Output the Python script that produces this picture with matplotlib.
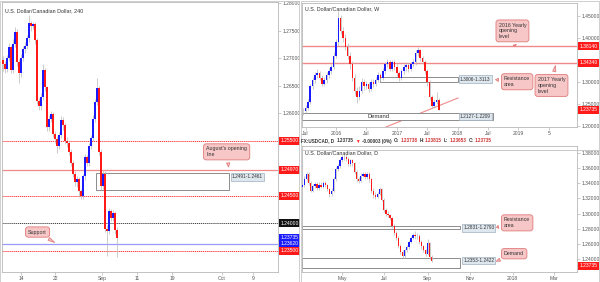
import numpy as np
import matplotlib
matplotlib.use("Agg")
import matplotlib.pyplot as plt
import matplotlib.patches as patches
import matplotlib.transforms as mtrans

plt.rcParams['font.family'] = ['Liberation Sans', 'DejaVu Sans']

UP = "#1a1aff"
DOWN = "#ff1a1a"
WICK = "#b8b8b8"
PINK = "#f7c6c6"
PINK_EDGE = "#e07a7a"
LINE_RED = "#f08a8a"

# ---- 4H panel (bars every 8h, Aug 10 -> Sep 6 2017)
h4_open0 = 1.2697
h4_close = [1.2690, 1.2680, 1.2700, 1.2720, 1.2678, 1.2725, 1.2748, 1.2692, 1.2672, 1.2700,
            1.2716, 1.2722, 1.2736, 1.2763, 1.2758, 1.2762, 1.2732, 1.2622, 1.2612, 1.2630,
            1.2678, 1.2647, 1.2575, 1.2590, 1.2598, 1.2562, 1.2552, 1.2540, 1.2560, 1.2588,
            1.2578, 1.2550, 1.2545, 1.2530, 1.2510, 1.2490, 1.2475, 1.2480, 1.2458, 1.2450,
            1.2485, 1.2520, 1.2510, 1.2540, 1.2555, 1.2590, 1.2620, 1.2645, 1.2530, 1.2468,
            1.2490, 1.2390, 1.2385, 1.2422, 1.2410, 1.2418, 1.2388, 1.23735]
h4_high = [1.2704, 1.2695, 1.2706, 1.2728, 1.2724, 1.2735, 1.2756, 1.2752, 1.2698, 1.2708,
           1.2722, 1.2730, 1.2742, 1.2778, 1.2768, 1.2766, 1.2766, 1.2736, 1.2628, 1.2636,
           1.2690, 1.2682, 1.2650, 1.2596, 1.2604, 1.2602, 1.2568, 1.2558, 1.2566, 1.2594,
           1.2592, 1.2582, 1.2556, 1.2550, 1.2534, 1.2514, 1.2494, 1.2486, 1.2484, 1.2462,
           1.2490, 1.2526, 1.2524, 1.2546, 1.2560, 1.2596, 1.2626, 1.2663, 1.2650, 1.2534,
           1.2496, 1.2494, 1.2396, 1.2428, 1.2426, 1.2424, 1.2422, 1.2392]
h4_low = [1.2676, 1.2672, 1.2674, 1.2694, 1.2672, 1.2672, 1.2720, 1.2686, 1.2654, 1.2666,
          1.2694, 1.2710, 1.2716, 1.2730, 1.2750, 1.2752, 1.2726, 1.2616, 1.2606, 1.2606,
          1.2624, 1.2640, 1.2568, 1.2568, 1.2584, 1.2556, 1.2546, 1.2528, 1.2534, 1.2554,
          1.2570, 1.2544, 1.2538, 1.2524, 1.2504, 1.2484, 1.2468, 1.2466, 1.2448, 1.2444,
          1.2444, 1.2478, 1.2504, 1.2504, 1.2534, 1.2550, 1.2584, 1.2614, 1.2524, 1.2460,
          1.2462, 1.2384, 1.2341, 1.2380, 1.2404, 1.2404, 1.2380, 1.2338]
h4_ticks = [9, 26, 49.5, 67, 84.5, 109.5, 125]
h4_ticklabels = ["14", "22", "Sep", "11", "19", "Oct", "9"]
h4_levels = [1.2550, 1.2497, 1.2450, 1.2400, 1.23735, 1.2362, 1.2350]
h4_level_labels = ["1.25500", "1.24970", "1.24500", "1.24000", "1.23735", "1.23620", "1.23500"]
h4_level_colors = ["#ff1a1a", "#ff1a1a", "#ff1a1a", "#111111", "#1a1aff", "#1a1aff", "#ff1a1a"]
h4_zone = (1.2461, 1.2491)

# ---- weekly panel (two-week steps, week 0 = Jan 2016)
wk_open0 = 1.2330
wk_close = [1.235, 1.240, 1.255, 1.290, 1.305, 1.315, 1.320, 1.310, 1.295, 1.305,
            1.315, 1.325, 1.335, 1.360, 1.390, 1.445, 1.415, 1.400, 1.380, 1.360,
            1.340, 1.310, 1.280, 1.265, 1.280, 1.300, 1.290, 1.295, 1.285, 1.300,
            1.295, 1.305, 1.315, 1.310, 1.325, 1.340, 1.345, 1.330, 1.345, 1.335,
            1.320, 1.310, 1.325, 1.335, 1.338, 1.330, 1.340, 1.345, 1.365, 1.372,
            1.355, 1.345, 1.325, 1.300, 1.265, 1.245, 1.255, 1.260, 1.23735]
wk_high = [1.242, 1.248, 1.262, 1.296, 1.312, 1.322, 1.330, 1.326, 1.316, 1.312,
           1.322, 1.332, 1.342, 1.368, 1.398, 1.462, 1.452, 1.425, 1.408, 1.388,
           1.368, 1.348, 1.318, 1.288, 1.290, 1.308, 1.306, 1.302, 1.300, 1.306,
           1.307, 1.312, 1.322, 1.320, 1.332, 1.346, 1.353, 1.350, 1.350, 1.350,
           1.340, 1.326, 1.330, 1.342, 1.345, 1.344, 1.346, 1.352, 1.372, 1.380,
           1.376, 1.360, 1.350, 1.330, 1.304, 1.270, 1.262, 1.277, 1.264]
wk_low = [1.226, 1.229, 1.236, 1.250, 1.284, 1.298, 1.308, 1.304, 1.290, 1.290,
          1.298, 1.308, 1.318, 1.330, 1.354, 1.382, 1.408, 1.392, 1.372, 1.352,
          1.330, 1.302, 1.270, 1.252, 1.260, 1.274, 1.282, 1.284, 1.278, 1.280,
          1.288, 1.290, 1.300, 1.302, 1.305, 1.318, 1.334, 1.324, 1.325, 1.328,
          1.314, 1.303, 1.305, 1.318, 1.326, 1.322, 1.325, 1.334, 1.338, 1.358,
          1.348, 1.340, 1.318, 1.292, 1.258, 1.241, 1.242, 1.250, 1.236]
wk_ticks = [-26, 0, 26, 52, 78, 104, 130, 156, 182]
wk_ticklabels = ["Jul", "2016", "Jul", "2017", "Jul", "2018", "Jul", "2019", "5"]
wk_yticks = [1.20, 1.25, 1.30, 1.40, 1.45]
wk_levels = [1.3814, 1.3434, 1.23735]
wk_level_labels = ["1.38140", "1.34340", "1.23735"]
wk_resistance = (1.3006, 1.3113)
wk_demand = (1.2139, 1.2302)
wk_trend_x = [42.7, 104.3]
wk_trend_y = [1.1977, 1.2636]

# ---- daily panel (three-day steps, day 0 = Jan 1 2017)
d_open0 = 1.335
d_close = [1.337, 1.345, 1.352, 1.340, 1.330, 1.336, 1.339, 1.333, 1.338, 1.335,
           1.340, 1.337, 1.332, 1.326, 1.330, 1.345, 1.358, 1.362, 1.370, 1.374,
           1.375, 1.372, 1.365, 1.370, 1.366, 1.355, 1.345, 1.343, 1.350, 1.352,
           1.348, 1.352, 1.345, 1.330, 1.325, 1.322, 1.326, 1.332, 1.318, 1.305,
           1.300, 1.298, 1.294, 1.284, 1.275, 1.268, 1.258, 1.250, 1.244, 1.252,
           1.256, 1.263, 1.268, 1.272, 1.270, 1.271, 1.263, 1.257, 1.252, 1.247,
           1.262, 1.2435, 1.23735]
d_high = [1.341, 1.349, 1.355, 1.354, 1.343, 1.339, 1.342, 1.342, 1.341, 1.341,
          1.343, 1.343, 1.339, 1.334, 1.333, 1.348, 1.361, 1.365, 1.373, 1.377,
          1.379, 1.378, 1.374, 1.372, 1.372, 1.368, 1.357, 1.348, 1.353, 1.355,
          1.354, 1.355, 1.354, 1.347, 1.333, 1.328, 1.329, 1.335, 1.334, 1.320,
          1.308, 1.303, 1.300, 1.296, 1.286, 1.277, 1.270, 1.260, 1.252, 1.254,
          1.259, 1.265, 1.270, 1.275, 1.2775, 1.274, 1.273, 1.265, 1.259, 1.254,
          1.266, 1.263, 1.2450]
d_low = [1.332, 1.335, 1.343, 1.338, 1.328, 1.328, 1.334, 1.331, 1.331, 1.333,
         1.333, 1.335, 1.330, 1.322, 1.323, 1.328, 1.343, 1.356, 1.360, 1.368,
         1.371, 1.369, 1.362, 1.363, 1.363, 1.352, 1.342, 1.340, 1.341, 1.348,
         1.345, 1.346, 1.342, 1.327, 1.321, 1.319, 1.320, 1.324, 1.316, 1.302,
         1.297, 1.295, 1.291, 1.281, 1.272, 1.265, 1.255, 1.247, 1.2413, 1.242,
         1.249, 1.254, 1.261, 1.266, 1.267, 1.266, 1.260, 1.254, 1.249, 1.244,
         1.245, 1.241, 1.2365]
d_ticks = [120, 181, 243, 304, 365, 424]
d_ticklabels = ["May", "Jul", "Sep", "Nov", "2018", "Mar"]
d_yticks = [1.24, 1.26, 1.28, 1.30, 1.32, 1.34, 1.36, 1.38]
d_resistance = (1.2793, 1.2831)
d_demand = (1.2290, 1.2422)
d_last = 1.23735

header_parts = ["FX:USDCAD, D", "1.23735", "\u25bc", "-0.00003 (0%)", "O:", "1.23738",
                "H:", "1.23815", "L:", "1.23653", "C:", "1.23735"]
header_colors = ["#333333", "#333333", "#ff1a1a", "#333333", "#333333", "#d03030",
                 "#333333", "#d03030", "#333333", "#d03030", "#333333", "#d03030"]


def draw_candles(ax, xs, open0, highs, lows, closes, width):
    opens = [open0] + closes[:-1]
    ax.vlines(xs, lows, highs, color=WICK, lw=0.5, zorder=2)
    for x, o, c in zip(xs, opens, closes):
        color = UP if c >= o else DOWN
        h = max(abs(c - o), 0.00001)
        ax.bar(x, h, bottom=min(o, c), width=width, color=color, lw=0, zorder=3)


def style_axes(ax, ticks, labels, yticks):
    ax.set_facecolor("white")
    for s in ax.spines.values():
        s.set_color("#b8b8b8")
        s.set_linewidth(0.6)
    ax.yaxis.tick_right()
    ax.set_yticks(yticks)
    ax.yaxis.set_major_formatter(matplotlib.ticker.FormatStrFormatter("%.5f"))
    ax.set_xticks(ticks)
    ax.set_xticklabels(labels)
    ax.tick_params(axis="both", labelsize=3.6, colors="#b8b8b8", labelcolor="#555555",
                   length=2, width=0.5, pad=1.2)


def price_tag(ax, y, text, color, shift=0.0):
    tr = mtrans.blended_transform_factory(ax.transAxes, ax.transData)
    tr = mtrans.offset_copy(tr, fig=ax.figure, x=0, y=shift, units="points")
    ax.text(1.008, y, text, transform=tr, fontsize=3.6, color="white", va="center",
            ha="left", clip_on=False, zorder=10,
            bbox=dict(boxstyle="square,pad=0.3", fc=color, ec="none"))


def callout(ax, text, xy, xytext):
    ax.annotate(text, xy=xy, xycoords="data", xytext=xytext, textcoords="axes fraction",
                fontsize=3.8, color="#333333", ha="left", va="center", zorder=12,
                bbox=dict(boxstyle="round,pad=0.5", fc=PINK, ec=PINK_EDGE, lw=0.6),
                arrowprops=dict(arrowstyle="wedge,tail_width=0.6", fc=PINK, ec=PINK_EDGE, lw=0.6))


def zone_label(ax, x, y, text):
    ax.text(x, y, text, fontsize=3.4, color="#333333", va="center", ha="left", zorder=12,
            bbox=dict(boxstyle="square,pad=0.25", fc="#dfe7ee", ec="#9fb0c0", lw=0.5))


fig = plt.figure(figsize=(6, 2.82), dpi=100)
fig.patch.set_facecolor("white")

# panel borders
for (x0, y0, w, h) in [(0, 0, 299, 281), (301, 132, 298, 149), (301, 0, 298, 132)]:
    fig.patches.append(patches.Rectangle((x0 / 600, y0 / 282), w / 600, h / 282,
                                         transform=fig.transFigure, fill=False,
                                         ec="#c8c8c8", lw=0.6))

# ---------------- left: 4H
ax1 = fig.add_axes([2 / 600, 10 / 282, 276 / 600, 270 / 282])
x1 = np.arange(len(h4_close))
draw_candles(ax1, x1, h4_open0, h4_high, h4_low, h4_close, 0.85)
ax1.set_xlim(-0.5, 137.5)
ax1.set_ylim(1.2311, 1.2802)
style_axes(ax1, h4_ticks, h4_ticklabels, [1.26, 1.265, 1.27, 1.275, 1.28])

line_styles = [
    dict(color="#ff3030", ls=(0, (1.2, 0.8)), lw=0.7),
    dict(color=LINE_RED, ls="-", lw=0.9),
    dict(color="#ff3030", ls=(0, (1.2, 0.8)), lw=0.7),
    dict(color="#444444", ls=(0, (1.2, 0.8)), lw=0.7),
    None,
    dict(color="#9a9aff", ls="-", lw=0.9),
    dict(color="#ff3030", ls=(0, (1.2, 0.8)), lw=0.7),
]
for lvl, st in zip(h4_levels, line_styles):
    if st is not None:
        ax1.axhline(lvl, zorder=1, **st)
for lvl, lab, col in zip(h4_levels, h4_level_labels, h4_level_colors):
    price_tag(ax1, lvl, lab, col)

ax1.add_patch(patches.Rectangle((46.5, h4_zone[0]), 66.5, h4_zone[1] - h4_zone[0],
                                fc="white", ec="#8c8c8c", lw=0.7, zorder=1.5))
zone_label(ax1, 114.5, 1.2484, "1.2491-1.2461")
callout(ax1, "August's opening\nline", (113, 1.2497), (0.74, 0.445))
callout(ax1, "Support", (27, 1.2362), (0.095, 0.148))
ax1.text(0.011, 0.975, "U.S. Dollar/Canadian Dollar, 240", transform=ax1.transAxes,
         fontsize=3.9, color="#333333", va="top")

# ---------------- top right: weekly
ax2 = fig.add_axes([302 / 600, 155 / 282, 275 / 600, 124 / 282])
x2 = -28 + 2 * np.arange(len(wk_close))
draw_candles(ax2, x2, wk_open0, wk_high, wk_low, wk_close, 1.3)
ax2.set_xlim(-29, 206)
ax2.set_ylim(1.1977, 1.4795)
style_axes(ax2, wk_ticks, wk_ticklabels, wk_yticks)
ax2.axhline(wk_levels[0], color=LINE_RED, lw=1.0, zorder=1)
ax2.axhline(wk_levels[1], color=LINE_RED, lw=1.0, zorder=1)
ax2.plot(wk_trend_x, wk_trend_y, color=LINE_RED, lw=0.8, zorder=1)
for lvl, lab in zip(wk_levels, wk_level_labels):
    price_tag(ax2, lvl, lab, "#ff1a1a")
ax2.add_patch(patches.Rectangle((37.6, wk_resistance[0]), 66.7, wk_resistance[1] - wk_resistance[0],
                                fc="none", ec="#8c8c8c", lw=0.7, zorder=1.5))
ax2.add_patch(patches.Rectangle((-29, wk_demand[0]), 163, wk_demand[1] - wk_demand[0],
                                fc="white", ec="#8c8c8c", lw=0.7, zorder=1.5))
ax2.text(36, (wk_demand[0] + wk_demand[1]) / 2, "Demand", fontsize=4.2, color="#333333",
         ha="center", va="center", zorder=4)
zone_label(ax2, 106, 1.3065, "1.3006-1.3113")
zone_label(ax2, 106, 1.2220, "1.2127-1.2209")
callout(ax2, "2016 Yearly\nopening\nlevel", (153, 1.3814), (0.715, 0.775))
callout(ax2, "Resistance\narea", (134, 1.3060), (0.735, 0.365))
callout(ax2, "2017 Yearly\nopening\nlevel", (188, 1.3434), (0.857, 0.335))
ax2.text(0.011, 0.97, "U.S. Dollar/Canadian Dollar, W", transform=ax2.transAxes,
         fontsize=3.9, color="#333333", va="top")

# header line between the right panels, laid out left to right by measured width
renderer = fig.canvas.get_renderer()
hx = 301.0
hy = 1 - 141 / 282
for txt, col in zip(header_parts, header_colors):
    t = fig.text(hx / 600, hy, txt, fontsize=3.3, color=col, va="center", ha="left",
                 fontweight="bold", family=["Liberation Sans", "DejaVu Sans"])
    w = t.get_window_extent(renderer).width
    gap = 1.0 if txt.endswith(":") else 2.2
    hx += w + gap

# ---------------- bottom right: daily
ax3 = fig.add_axes([302 / 600, 10 / 282, 275 / 600, 126 / 282])
x3 = 63 + 3 * np.arange(len(d_close))
draw_candles(ax3, x3, d_open0, d_high, d_low, d_close, 1.9)
ax3.set_xlim(62.5, 457.6)
ax3.set_ylim(1.2233, 1.3888)
style_axes(ax3, d_ticks, d_ticklabels, d_yticks)
price_tag(ax3, d_last, "1.23735", "#ff1a1a", shift=-3.2)
ax3.add_patch(patches.Rectangle((62.5, d_resistance[0]), 227, d_resistance[1] - d_resistance[0],
                                fc="none", ec="#8c8c8c", lw=0.7, zorder=1.5))
ax3.add_patch(patches.Rectangle((62.5, d_demand[0]), 227, d_demand[1] - d_demand[0],
                                fc="none", ec="#8c8c8c", lw=0.7, zorder=1.5))
zone_label(ax3, 294, 1.2812, "1.2831-1.2793")
zone_label(ax3, 294, 1.2380, "1.2353-1.2422")
callout(ax3, "Resistance\narea", (338, 1.2812), (0.735, 0.39))
callout(ax3, "Demand", (338, 1.2360), (0.735, 0.145))
ax3.text(0.011, 0.965, "U.S. Dollar/Canadian Dollar, D", transform=ax3.transAxes,
         fontsize=3.9, color="#333333", va="top")

fig.savefig("out.png", dpi=100)
